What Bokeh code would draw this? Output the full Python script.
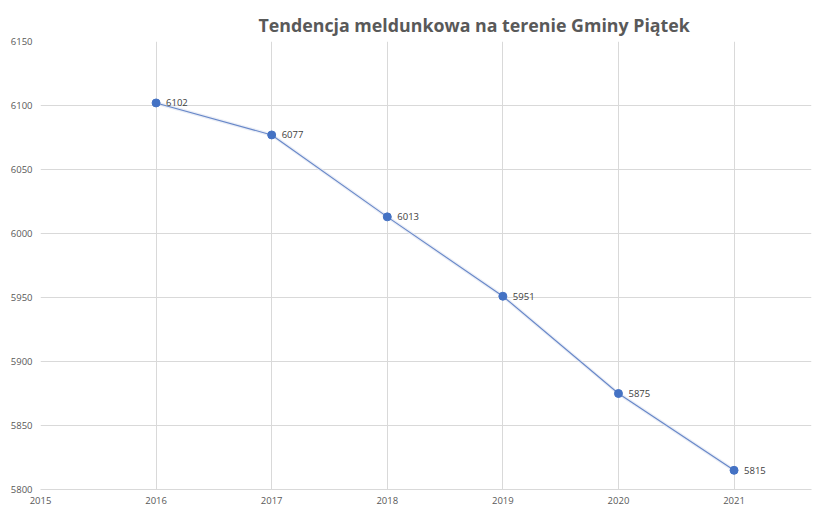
from bokeh.plotting import figure
from bokeh.models import ColumnDataSource, FixedTicker, Range1d, LabelSet
from bokeh.core.properties import value
from bokeh.embed import file_html
from bokeh.resources import INLINE

years = [2016, 2017, 2018, 2019, 2020, 2021]
residents = [6102, 6077, 6013, 5951, 5875, 5815]
labels = [str(v) for v in residents]
x_ticks = [2015, 2016, 2017, 2018, 2019, 2020, 2021]
y_ticks = [5800, 5850, 5900, 5950, 6000, 6050, 6100, 6150]

src = ColumnDataSource(dict(x=years, y=residents, t=labels))

p = figure(frame_width=771, frame_height=448, output_backend="svg", toolbar_location=None,
           x_range=Range1d(2015, 2021.67), y_range=Range1d(5800, 6150),
           min_border_left=40, min_border_right=1, min_border_top=41, min_border_bottom=0)

p.title.text = "Tendencja meldunkowa na terenie Gminy Piątek"
p.title.align = "left"
p.title.offset = 218
p.title.text_font = "Open Sans"
p.title.text_font_size = "17.8px"
p.title.text_font_style = "bold"
p.title.text_color = "#595959"
p.title.standoff = 10

p.outline_line_color = None
p.background_fill_color = "white"
p.border_fill_color = "white"

for ax in (p.xaxis, p.yaxis):
    ax.major_tick_line_color = None
    ax.minor_tick_line_color = None
    ax.major_label_text_font = "Open Sans"
    ax.major_label_text_font_size = "9.5px"
    ax.major_label_text_color = "#595959"
p.xaxis.axis_line_color = "#d9d9d9"
p.yaxis.axis_line_color = None
p.xaxis.ticker = FixedTicker(ticks=x_ticks)
p.yaxis.ticker = FixedTicker(ticks=y_ticks)
p.xaxis.major_label_standoff = 1
p.yaxis.major_label_standoff = 2

p.xgrid.ticker = FixedTicker(ticks=x_ticks)
p.ygrid.ticker = FixedTicker(ticks=y_ticks)
p.xgrid.grid_line_color = "#d9d9d9"
p.ygrid.grid_line_color = "#d9d9d9"

p.line("x", "y", source=src, line_color="#dfe5f2", line_width=3.5, line_alpha=0.7)
p.line("x", "y", source=src, line_color="#6787c8", line_width=1.1)
p.scatter("x", "y", source=src, size=8, fill_color="#4472C4", line_color="#4472C4")

lbl = LabelSet(x="x", y="y", text="t", source=src, x_offset=10, y_offset=0,
               text_baseline="middle", text_font=value("Open Sans"), text_font_size="9.5px",
               text_color="#404040")
p.add_layout(lbl)

open("out.html", "w").write(file_html(p, INLINE))
